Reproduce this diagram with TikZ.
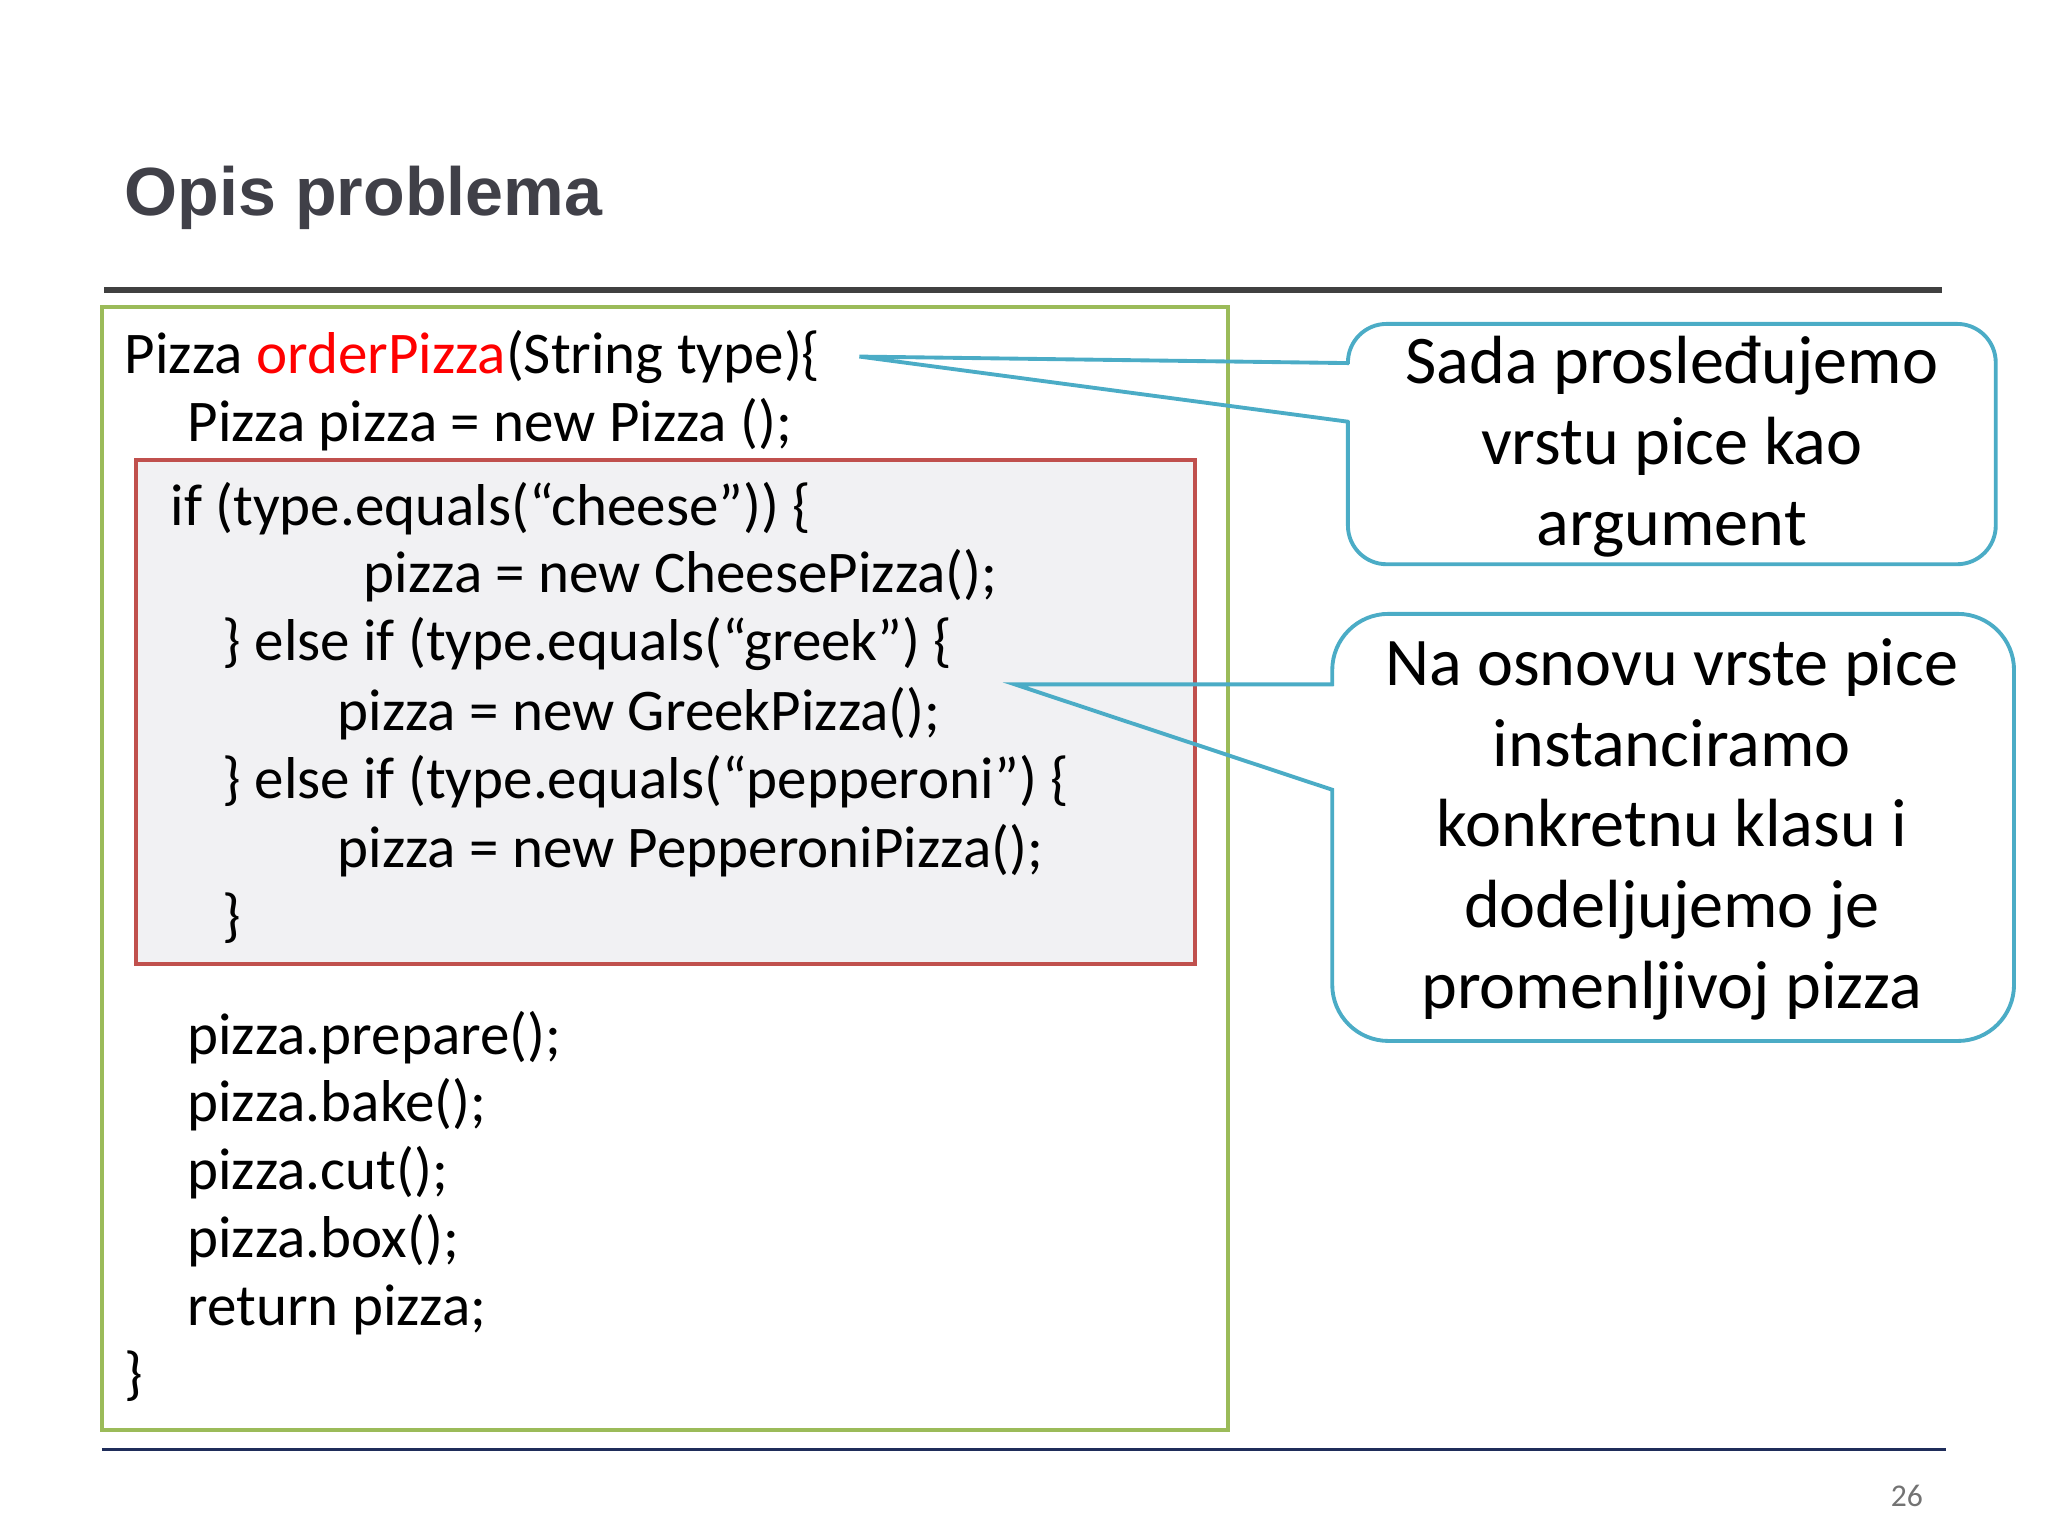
\documentclass[tikz,border=0pt]{standalone}
\usepackage{fontspec}
\setmainfont{Carlito}
\newfontfamily\titlefont{Liberation Sans}
\definecolor{cgreen}{RGB}{155,187,89}
\definecolor{cred}{RGB}{192,80,77}
\definecolor{cblue}{RGB}{75,172,198}
\definecolor{cfill}{RGB}{241,241,243}
\definecolor{ctitle}{RGB}{64,64,72}
\definecolor{cnavy}{RGB}{31,45,90}
\begin{document}
\begin{tikzpicture}[x=0.01306cm,y=-0.01306cm,
  code/.style={anchor=base west,inner sep=0,font=\fontsize{16.8}{20}\selectfont},
  call/.style={draw=cblue,line width=1.1pt,fill=white},
  ptr/.style={draw=cblue,line width=1.1pt,line join=miter},
  calltext/.style={align=center,font=\fontsize{19.4}{23}\selectfont}]
\useasboundingbox (0,0) rectangle (1568,1176);
\node[anchor=base west,inner sep=0,text=ctitle,font=\titlefont\bfseries\fontsize{19.4}{23}\selectfont] (title) at (95,165) {Opis problema};
\draw[line width=1.6pt,black!75] (80,222) -- (1487,222);
\draw[line width=1.2pt,cgreen] (78,235) rectangle (940,1095);
\draw[line width=1.2pt,cred,fill=cfill] (104,352) rectangle (915,738);
\node[code] (l1) at (95,286) {Pizza \textcolor{red}{orderPizza}(String type)\{};
\node[code] (l2) at (143,338) {Pizza pizza = new Pizza ();};
\node[code] (l3) at (130,402) {if (type.equals(“cheese”)) \{};
\node[code] (l4) at (278,454) {pizza = new CheesePizza();};
\node[code] (l5) at (170,506) {\} else if (type.equals(“greek”) \{};
\node[code] (l6) at (258,559) {pizza = new GreekPizza();};
\node[code] (l7) at (170,611) {\} else if (type.equals(“pepperoni”) \{};
\node[code] (l8) at (258,664) {pizza = new PepperoniPizza();};
\node[code] (l9) at (170,716) {\}};
\node[code] (l10) at (143,807) {pizza.prepare();};
\node[code] (l11) at (143,859) {pizza.bake();};
\node[code] (l12) at (143,911) {pizza.cut();};
\node[code] (l13) at (143,963) {pizza.box();};
\node[code] (l14) at (143,1015) {return pizza;};
\node[code] (l15) at (95,1067) {\}};
\draw[line width=0.8pt,cnavy] (78,1110) -- (1490,1110);
\node[text=black!55,font=\fontsize{9}{11}\selectfont] (pg) at (1460,1145) {26};
% callout 1
\draw[call,rounded corners=11pt] (1032,248) rectangle (1528,432);
\draw[white,line width=2pt] (1032,279) -- (1032,322);
\coordinate (t1) at (658,273);
\draw[ptr] (1033,278) -- (t1) -- (1033,323);
\node[calltext] (c1) at (1280,342) {Sada prosleđujemo\\vrstu pice kao\\argument};
% callout 2
\draw[call,rounded corners=16pt] (1020,470) rectangle (1542,797);
\draw[white,line width=2pt] (1020,525) -- (1020,604);
\coordinate (t2) at (777,524);
\draw[ptr] (1021,524) -- (t2) -- (1021,605);
\node[calltext] (c2) at (1280,635) {Na osnovu vrste pice\\instanciramo\\konkretnu klasu i\\dodeljujemo je\\promenljivoj pizza};
\end{tikzpicture}
\end{document}
